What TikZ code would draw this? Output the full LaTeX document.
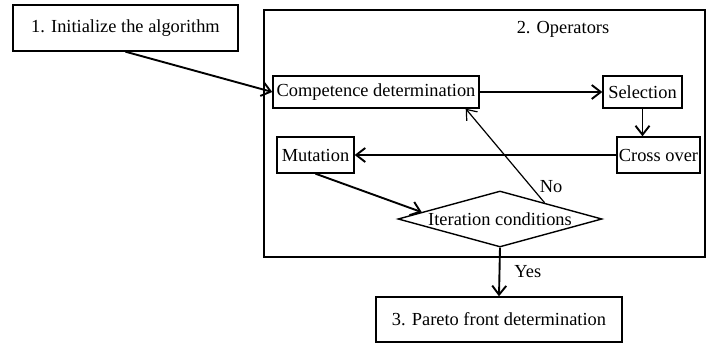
\documentclass[tikz,border=0pt]{standalone}
\usepackage{fontspec}
\setmainfont{Liberation Serif}
\usetikzlibrary{arrows.meta,shapes.geometric}

\begin{document}
\begin{tikzpicture}[
  x=0.5pt, y=-0.5pt,
  font=\fontsize{9.2}{11}\selectfont,
  box/.style={draw, line width=0.7pt, inner sep=1pt, align=center},
  frame/.style={draw, line width=0.75pt, inner sep=0pt},
  cond/.style={draw, diamond, line width=0.7pt, inner sep=0pt, shape aspect=3.6, minimum width=102pt, minimum height=28pt},
  arrow/.style={-{Straight Barb[length=4.5pt, width=7pt]}, line width=0.95pt},
  thinarrow/.style={-{Straight Barb[length=4.5pt, width=7pt]}, line width=0.6pt},
  lbl/.style={inner sep=0pt}
]
\useasboundingbox (0,0) rectangle (707,348);

\node[box, minimum width=112.5pt, minimum height=23pt] (init) at (125.5,28)
  {1. Initialize the algorithm};
\node[frame, minimum width=220.5pt, minimum height=123.5pt] (ops) at (484.5,133.5) {};
\node[lbl] (opslabel) at (563,29) {2. Operators};

\node[box, minimum width=103pt, minimum height=16pt] (comp) at (376,92)
  {Competence determination};
\node[box, minimum width=39.5pt, minimum height=16pt] (sel) at (642.5,92)
  {Selection};
\node[box, minimum width=41.5pt, minimum height=18pt] (cross) at (658.5,155)
  {Cross over};
\node[box, minimum width=38.5pt, minimum height=18pt] (mut) at (315.5,155)
  {Mutation};
\node[cond] (iter) at (500,219) {Iteration conditions};
\node[box, minimum width=123pt, minimum height=22.5pt] (pareto) at (499,319.5)
  {3. Pareto front determination};

\draw[arrow] (init.south) -- (comp.west);
\draw[arrow] (comp.east) -- (sel.west);
\draw[arrow] (sel.south) -- (sel.south |- cross.north);
\draw[arrow] (cross.west) -- (mut.east);
\draw[arrow] (mut.south) -- (iter.175);
\draw[thinarrow] (iter.20) -- ([xshift=-7pt]comp.south east)
  node[lbl, pos=0.17, right=4pt] (no) {No};
\draw[arrow] (iter.south) -- (pareto.north)
  node[lbl, midway, right=7pt] (yes) {Yes};

\end{tikzpicture}
\end{document}
